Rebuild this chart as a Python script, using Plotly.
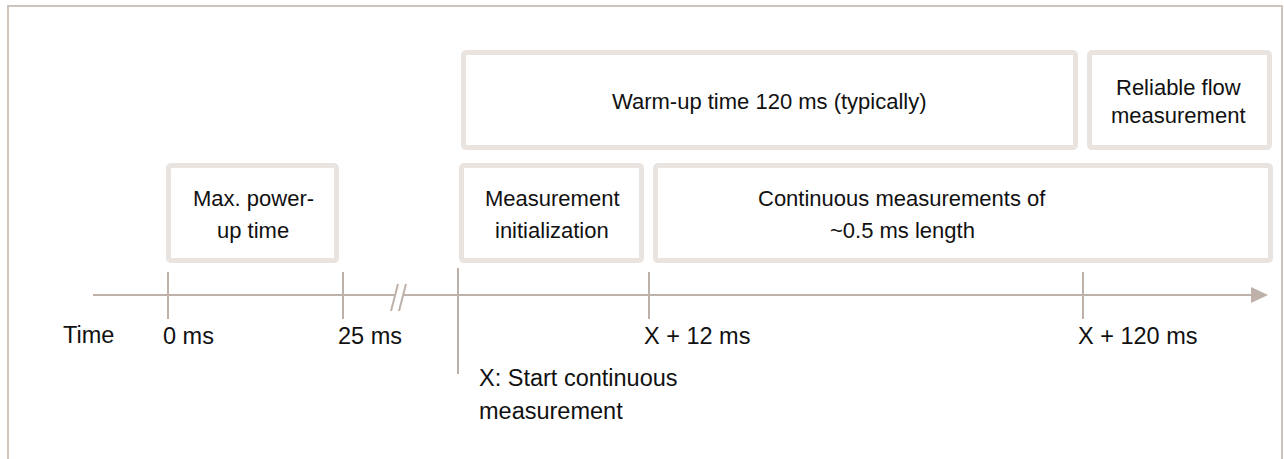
import plotly.graph_objects as go

# ---- schematic timeline data (diagram units along the time axis) ----
tick_labels = ["0 ms", "25 ms", "X + 12 ms", "X + 120 ms"]
tick_x = [168, 343, 649, 1083]
start_x = 458  # "X: Start continuous measurement"
start_label = ["X: Start continuous", "measurement"]

# phase boxes: label lines, start, end, row (0 = lower row, 1 = upper row)
phase_lines = [
    ["Max. power-", "up time"],
    ["Warm-up time 120 ms (typically)"],
    ["Reliable flow", "measurement"],
    ["Measurement", "initialization"],
    ["Continuous measurements of", "~0.5 ms length"],
]
phase_start = [166, 461, 1087, 459, 653]
phase_end = [339, 1078, 1272, 644, 1273]
phase_row = [0, 1, 1, 0, 0]
phase_text_x = [253, 769, 1178, 552, 902]

W, H = 1284, 459
AXIS_Y = 295
ROW_TOP = {1: 50, 0: 163}
ROW_BOT = {1: 150, 0: 263}

FONT = "Liberation Sans, Arial, Helvetica, sans-serif"
BOX_FS = 22
AX_FS = 23.5
AX_COL = "#bdb1a9"
BOX_COL = "#e9e4e0"
FRAME_COL = "#cdc4be"
TXT_COL = "#111111"

fig = go.Figure()
fig.add_trace(go.Scatter(x=[0, W], y=[0, H], mode="markers",
                         marker=dict(opacity=0), hoverinfo="skip", showlegend=False))

shapes = []
annotations = []

# outer frame (open at the bottom)
shapes.append(dict(type="path", xref="x", yref="y",
                   path=f"M 8,{H+5} L 8,6 L 1282,6 L 1282,{H+5}",
                   line=dict(color=FRAME_COL, width=2)))


def rounded_rect(x0, y0, x1, y1, r=3):
    return (f"M {x0+r},{y0} L {x1-r},{y0} Q {x1},{y0} {x1},{y0+r} "
            f"L {x1},{y1-r} Q {x1},{y1} {x1-r},{y1} L {x0+r},{y1} "
            f"Q {x0},{y1} {x0},{y1-r} L {x0},{y0+r} Q {x0},{y0} {x0+r},{y0} Z")


text_y = {
    (1, 1): [101],
    (1, 2): [87.5, 115.5],
    (0, 2): [198, 230],
}

sw = 5
for lines, xs, xe, row, tx in zip(phase_lines, phase_start, phase_end, phase_row, phase_text_x):
    y0, y1 = ROW_TOP[row], ROW_BOT[row]
    shapes.append(dict(type="path", xref="x", yref="y",
                       path=rounded_rect(xs + sw / 2, y0 + sw / 2, xe - sw / 2, y1 - sw / 2),
                       line=dict(color=BOX_COL, width=sw), fillcolor="white"))
    for ln, yy in zip(lines, text_y[(row, len(lines))]):
        annotations.append(dict(x=tx, y=yy, xref="x", yref="y", text=ln, showarrow=False,
                                xanchor="center", yanchor="middle",
                                font=dict(family=FONT, size=BOX_FS, color=TXT_COL)))

# time axis with break
shapes.append(dict(type="line", xref="x", yref="y", x0=93, x1=394, y0=AXIS_Y, y1=AXIS_Y,
                   line=dict(color=AX_COL, width=2)))
shapes.append(dict(type="line", xref="x", yref="y", x0=403, x1=1254, y0=AXIS_Y, y1=AXIS_Y,
                   line=dict(color=AX_COL, width=2)))
for bx in (391, 399):
    shapes.append(dict(type="line", xref="x", yref="y", x0=bx, x1=bx + 7, y0=311, y1=284,
                       line=dict(color=AX_COL, width=2)))
shapes.append(dict(type="path", xref="x", yref="y",
                   path=f"M 1251,{AXIS_Y-8} L 1268,{AXIS_Y} L 1251,{AXIS_Y+8} Z",
                   line=dict(color=AX_COL, width=0), fillcolor=AX_COL))

# ticks and their labels
for lab, tx in zip(tick_labels, tick_x):
    shapes.append(dict(type="line", xref="x", yref="y", x0=tx, x1=tx, y0=272, y1=319,
                       line=dict(color=AX_COL, width=2)))
    annotations.append(dict(x=tx - 7, y=336, xref="x", yref="y", text=lab, showarrow=False,
                            xanchor="left", yanchor="middle",
                            font=dict(family=FONT, size=AX_FS, color=TXT_COL)))

# start marker
shapes.append(dict(type="line", xref="x", yref="y", x0=start_x, x1=start_x, y0=268, y1=374,
                   line=dict(color=AX_COL, width=2)))
for ln, yy in zip(start_label, [378, 411]):
    annotations.append(dict(x=start_x + 19, y=yy, xref="x", yref="y", text=ln, showarrow=False,
                            xanchor="left", yanchor="middle",
                            font=dict(family=FONT, size=AX_FS, color=TXT_COL)))

annotations.append(dict(x=61, y=335, xref="x", yref="y", text="Time", showarrow=False,
                        xanchor="left", yanchor="middle",
                        font=dict(family=FONT, size=AX_FS, color=TXT_COL)))

fig.update_layout(
    width=W, height=H,
    margin=dict(l=0, r=0, t=0, b=0),
    paper_bgcolor="white", plot_bgcolor="white",
    xaxis=dict(range=[0, W], visible=False, fixedrange=True),
    yaxis=dict(range=[H, 0], visible=False, fixedrange=True),
    shapes=shapes, annotations=annotations,
    showlegend=False,
)

fig.write_html("out.html", config={"displayModeBar": False},
               post_script="document.body.style.margin='0px';document.body.style.overflow='hidden';")
